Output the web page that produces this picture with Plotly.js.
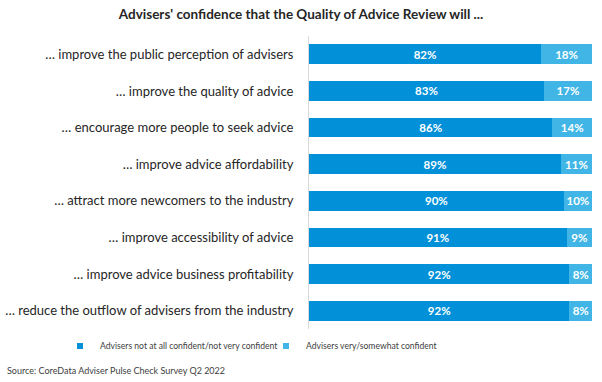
<!DOCTYPE html>
<html><head><meta charset="utf-8">
<script src="https://cdn.plot.ly/plotly-3.0.1.min.js"></script>
<style>body{margin:0;background:#fff}#c{width:602px;height:382px}</style>
</head><body><div id="c"></div>
<script>
const categories = [
  "… improve the public perception of advisers",
  "… improve the quality of advice",
  "… encourage more people to seek advice",
  "… improve advice affordability",
  "… attract more newcomers to the industry",
  "… improve accessibility of advice",
  "… improve advice business profitability",
  "… reduce the outflow of advisers from the industry"
];
const notConfident = [82, 83, 86, 89, 90, 91, 92, 92];
const confident = [18, 17, 14, 11, 10, 9, 8, 8];
const seriesNames = ["Advisers not at all confident/not very confident", "Advisers very/somewhat confident"];
const seriesColors = ['#0291D9', '#41B6E6'];
const titleText = "Advisers' confidence that the Quality of Advice Review will ...";
const sourceText = "Source: CoreData Adviser Pulse Check Survey Q2 2022";

const font = "Lato, 'Open Sans', sans-serif";
function tr(vals, name, color){
  return {type:'bar', orientation:'h', y:categories, x:vals, name:name, showlegend:false,
    marker:{color:color}, texttemplate:'%{x}%', textposition:'inside',
    insidetextanchor:'middle', constraintext:'none',
    textfont:{color:'#ffffff', size:11.5, family:font, weight:'bold'},
    hoverinfo:'x+y'};
}
function legTr(name, color, lg){
  return {type:'scatter', mode:'markers', x:[null], y:[null], name:name, legend:lg, showlegend:true,
    marker:{symbol:'square', size:6, color:color}, hoverinfo:'skip'};
}
const data = [
  tr(notConfident, seriesNames[0], seriesColors[0]),
  tr(confident, seriesNames[1], seriesColors[1]),
  legTr(seriesNames[0], seriesColors[0], 'legend'),
  legTr(seriesNames[1], seriesColors[1], 'legend2')
];
const legFont = {size:8.6, family:font, color:'#404040'};
const legY = 1-346/382;
const layout = {
  width:602, height:382, barmode:'stack', bargap:0.46, showlegend:true,
  paper_bgcolor:'#fff', plot_bgcolor:'#fff',
  margin:{l:309, r:10, t:36, b:53, autoexpand:false},
  font:{family:font, color:'#262626'},
  title:{text:titleText, x:0.5, xanchor:'center', y:0.962, yanchor:'middle',
    font:{size:13.5, family:font, color:'#262626', weight:'bold'}},
  xaxis:{range:[0,100], showgrid:false, zeroline:false, showticklabels:false, showline:false, fixedrange:true},
  yaxis:{autorange:'reversed', showgrid:false, zeroline:false, showline:true, linecolor:'#d9d9d9', linewidth:1,
    ticks:'', ticklabelstandoff:12, tickfont:{size:13, family:font, color:'#262626'}},
  legend:{orientation:'h', xref:'container', yref:'container', x:60/602, xanchor:'left', y:legY, yanchor:'middle', font:legFont, bgcolor:'rgba(0,0,0,0)'},
  legend2:{orientation:'h', xref:'container', yref:'container', x:266/602, xanchor:'left', y:legY, yanchor:'middle', font:legFont, bgcolor:'rgba(0,0,0,0)'},
  annotations:[{text:sourceText, xref:'paper', yref:'paper', x:-309/283, xanchor:'left', y:-0.14, yanchor:'middle', showarrow:false,
    font:{size:9, family:font, color:'#404040'}, xshift:5}]
};
Plotly.newPlot('c', data, layout, {displayModeBar:false, staticPlot:true});
</script></body></html>
